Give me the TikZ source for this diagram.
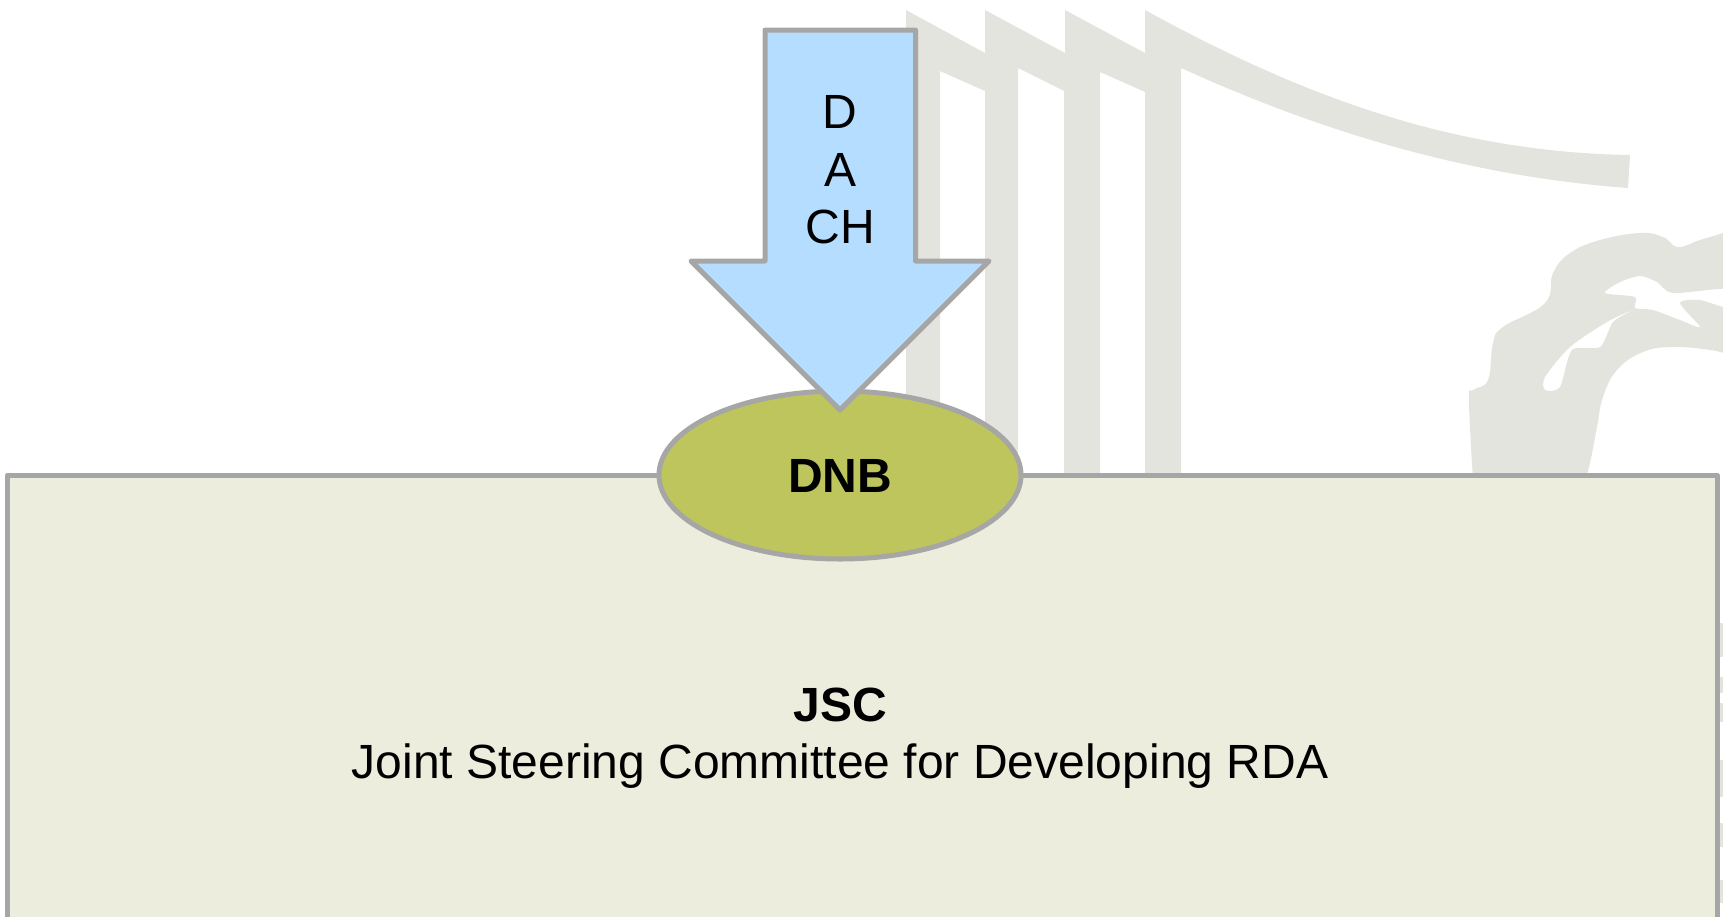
\documentclass[tikz,border=0pt]{standalone}
\usepackage{fontspec}
\setmainfont{Liberation Sans}
\usetikzlibrary{shapes.geometric}
\definecolor{wm}{HTML}{E4E4DF}
\definecolor{edge}{HTML}{A6A6A6}
\definecolor{boxfill}{HTML}{ECEDDC}
\definecolor{ovalfill}{HTML}{BDC55C}
\definecolor{arrowfill}{HTML}{B4DDFF}
\tikzset{
  outlined/.style={draw=edge,line width=5pt,line join=round,outer sep=0pt},
  lbl/.style={font=\fontsize{48}{57.5}\selectfont,align=center,inner sep=0pt,text=black}
}
\begin{document}
\begin{tikzpicture}[x=1pt,y=-1pt]
\useasboundingbox (0,0) rectangle (1723,916);
\clip (0,0) rectangle (1723,916);
% watermark: bars
\fill[wm] (906,10) -- (985,53) -- (985,10) -- (1065,53) -- (1065,10) -- (1145,53) -- (1145,10)
  .. controls (1300,95) and (1450,152) .. (1630,155) -- (1628,188)
  .. controls (1450,175) and (1300,122) .. (1181,68)
  -- (1181,480) -- (1145,480) -- (1145,92) -- (1100,72) -- (1100,480) -- (1064,480) -- (1064,91)
  -- (1018,68) -- (1018,480) -- (985,480) -- (985,91) -- (940,71) -- (940,480) -- (906,480) -- cycle;
% watermark: figure
\fill[wm,even odd rule]
  plot[smooth,tension=0.7] coordinates {(1473,480) (1469,400) (1473,390) (1488,380) (1493,343) (1503,327) (1545,303) (1553,273) (1570,253) (1600,240) (1640,233) (1663,237) (1678,247) (1700,240) (1730,231)}
  -- plot[smooth,tension=0.7] coordinates {(1730,355) (1710,350) (1673,347) (1643,352) (1617,370) (1603,397) (1597,427) (1590,463) (1585,480)} -- cycle
  plot[smooth cycle,tension=0.45] coordinates {(1605,293) (1620,282) (1640,276) (1657,282) (1673,293) (1730,289) (1730,308) (1700,300) (1680,303) (1700,327) (1680,320) (1653,310) (1635,308) (1635,297)}
  plot[smooth cycle,tension=0.45] coordinates {(1633,310) (1613,322) (1600,347) (1572,350) (1560,387) (1545,390) (1545,377) (1570,347) (1607,322)};
% marks right of the box
\foreach \a/\b in {623/657,677/693,703/722,760/797,823/847,880/903}
  \fill[wm] (1718,\a) rectangle (1723,\b);
% box
\node[outlined,fill=boxfill,rectangle,minimum width=1709.5pt,minimum height=600pt,anchor=north west,inner sep=0pt] (jsc) at (7.5,475) {};
\node[lbl] (jsctext) at (840,738) {\textbf{JSC}\\Joint Steering Committee for Developing RDA};
% oval
\node[outlined,fill=ovalfill,ellipse,minimum width=362pt,minimum height=168pt,inner sep=0pt] (dnb) at (840,475) {};
\node[lbl] (dnbtext) at (840,476) {\textbf{DNB}};
% arrow
\draw[outlined,fill=arrowfill] (765,30) -- (915.5,30) -- (915.5,261) -- (989,261) -- (840,410) -- (691,261) -- (765,261) -- cycle;
\node[lbl] (dach) at (840,170) {D\\A\\CH};
\end{tikzpicture}
\end{document}
